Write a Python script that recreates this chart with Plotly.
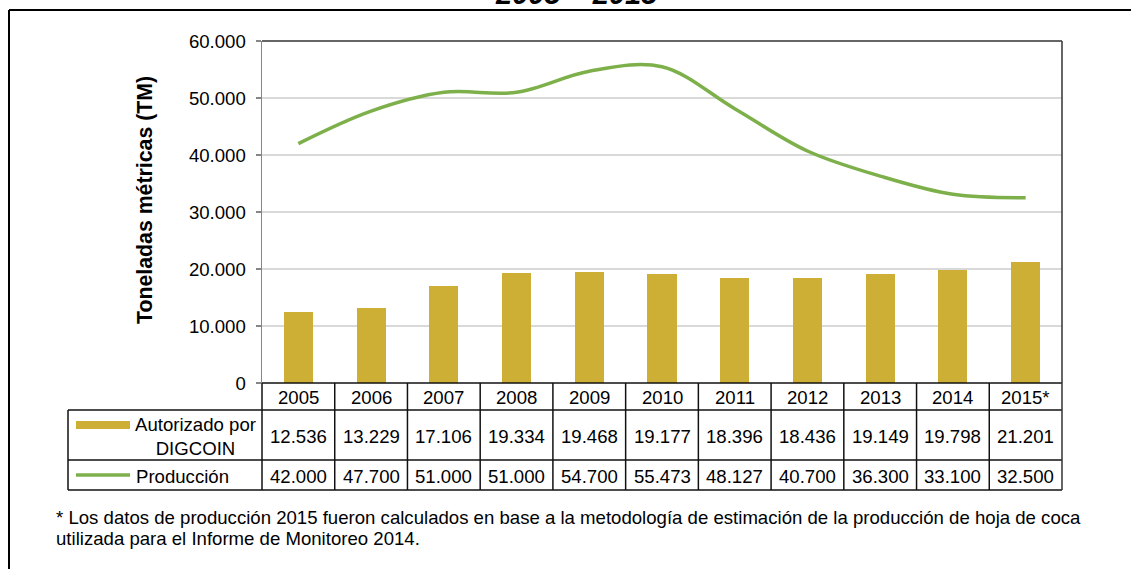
import plotly.graph_objects as go

# ---------------- data ----------------
years = ["2005", "2006", "2007", "2008", "2009", "2010", "2011", "2012", "2013", "2014", "2015*"]
autorizado = [12536, 13229, 17106, 19334, 19468, 19177, 18396, 18436, 19149, 19798, 21201]
produccion = [42000, 47700, 51000, 51000, 54700, 55473, 48127, 40700, 36300, 33100, 32500]
y_ticks = [0, 10000, 20000, 30000, 40000, 50000, 60000]
series_names = ["Autorizado por<br>DIGCOIN", "Producción"]
title_text = "2005 – 2015"
y_title = "Toneladas métricas (TM)"
footnote_1 = "* Los datos de producción 2015 fueron calculados en base a la metodología de estimación de la producción de hoja de coca"
footnote_2 = "utilizada para el Informe de Monitoreo 2014."

# ---------------- geometry (pixels) ----------------
W, H = 1131, 569
L, R, T, B = 262, 1062, 41, 383
PW, PH = R - L, B - T

def px(xp):
    return (xp - L) / PW

def py(yp):
    return (B - yp) / PH

FONT = "Liberation Sans, Arial, sans-serif"
GOLD = "#CDAF36"
GREEN = "#7DB04B"
LINE = "#111111"

def fmt(v):
    return f"{v:,}".replace(",", ".")

idx = list(range(len(years)))

fig = go.Figure()
fig.add_trace(go.Bar(x=idx, y=autorizado, width=0.4, marker=dict(color=GOLD, line=dict(width=0)),
                     name="Autorizado por DIGCOIN"))
fig.add_trace(go.Scatter(x=idx, y=produccion, mode="lines",
                         line=dict(color=GREEN, width=3.5, shape="spline", smoothing=1.0),
                         name="Producción"))

shapes = []
annotations = []

# row pixel boundaries of data table
r_head_top, r_head_bot = 383, 410
r1_bot, r2_bot = 460, 490
tbl_left = 68

# horizontal lines
for yy, x0 in [(r_head_bot, tbl_left), (r1_bot, tbl_left), (r2_bot, tbl_left)]:
    shapes.append(dict(type="line", xref="paper", yref="paper", x0=px(x0), x1=px(R),
                       y0=py(yy), y1=py(yy), line=dict(color=LINE, width=1.5)))
# x axis line (top of header)
shapes.append(dict(type="line", xref="paper", yref="paper", x0=0, x1=1, y0=0, y1=0,
                   line=dict(color=LINE, width=1.5)))
# vertical lines: column separators
for i in range(len(years) - 1):
    shapes.append(dict(type="line", xref="x", yref="paper", x0=i + 0.5, x1=i + 0.5,
                       y0=py(r_head_top), y1=py(r2_bot), line=dict(color=LINE, width=1.5)))
# left of table grid, right edge, legend box left
shapes.append(dict(type="line", xref="paper", yref="paper", x0=0, x1=0,
                   y0=0, y1=py(r2_bot), line=dict(color=LINE, width=1.5)))
shapes.append(dict(type="line", xref="paper", yref="paper", x0=1, x1=1,
                   y0=1, y1=py(r2_bot), line=dict(color="#333333", width=1.5)))
shapes.append(dict(type="line", xref="paper", yref="paper", x0=px(tbl_left), x1=px(tbl_left),
                   y0=py(r_head_bot), y1=py(r2_bot), line=dict(color=LINE, width=1.5)))
# plot area top border
shapes.append(dict(type="line", xref="paper", yref="paper", x0=0, x1=1, y0=1, y1=1,
                   line=dict(color="#333333", width=1.5)))
# legend keys
shapes.append(dict(type="rect", xref="paper", yref="paper", x0=px(76), x1=px(130),
                   y0=py(429), y1=py(421), fillcolor=GOLD, line=dict(width=0)))
shapes.append(dict(type="line", xref="paper", yref="paper", x0=px(76), x1=px(130),
                   y0=py(475), y1=py(475), line=dict(color=GREEN, width=3.5)))
# outer frame (left and top)
shapes.append(dict(type="line", xref="paper", yref="paper", x0=px(9), x1=px(9),
                   y0=py(10), y1=py(H + 5), line=dict(color="#000000", width=2)))
shapes.append(dict(type="line", xref="paper", yref="paper", x0=px(9), x1=px(W + 5),
                   y0=py(10), y1=py(10), line=dict(color="#000000", width=2)))

cell_font = dict(family=FONT, size=18.6, color="#000000")
for i in idx:
    annotations.append(dict(xref="x", yref="paper", x=i, y=py(397), text=years[i],
                            showarrow=False, font=cell_font, xanchor="center", yanchor="middle"))
    annotations.append(dict(xref="x", yref="paper", x=i, y=py(436), text=fmt(autorizado[i]),
                            showarrow=False, font=cell_font, xanchor="center", yanchor="middle"))
    annotations.append(dict(xref="x", yref="paper", x=i, y=py(476), text=fmt(produccion[i]),
                            showarrow=False, font=cell_font, xanchor="center", yanchor="middle"))

annotations.append(dict(xref="paper", yref="paper", x=px(195), y=py(436), text=series_names[0],
                        showarrow=False, font=cell_font, xanchor="center", yanchor="middle",
                        align="center"))
annotations.append(dict(xref="paper", yref="paper", x=px(134), y=py(476), text=series_names[1],
                        showarrow=False, font=cell_font, xanchor="left", yanchor="middle"))

# y axis title
annotations.append(dict(xref="paper", yref="paper", x=px(145), y=py(200), text="<b>" + y_title + "</b>",
                        textangle=-90, showarrow=False, xanchor="center", yanchor="middle",
                        font=dict(family=FONT, size=21.3, color="#000000")))
# cut-off title
annotations.append(dict(xref="paper", yref="paper", x=px(576), y=py(-6), text="<b><i>" + title_text + "</i></b>",
                        showarrow=False, xanchor="center", yanchor="middle",
                        font=dict(family=FONT, size=29, color="#000000")))
# footnotes
foot_font = dict(family=FONT, size=18.6, color="#000000")
annotations.append(dict(xref="paper", yref="paper", x=px(54), y=py(517), text=footnote_1,
                        showarrow=False, xanchor="left", yanchor="middle", font=foot_font))
annotations.append(dict(xref="paper", yref="paper", x=px(54), y=py(538), text=footnote_2,
                        showarrow=False, xanchor="left", yanchor="middle", font=foot_font))

fig.update_layout(
    width=W, height=H,
    margin=dict(l=L, r=W - R, t=T, b=H - B, pad=0),
    paper_bgcolor="white", plot_bgcolor="white",
    separators=",.",
    showlegend=False,
    bargap=0,
    shapes=shapes,
    annotations=annotations,
    xaxis=dict(range=[-0.5, len(years) - 0.5], showticklabels=False, showgrid=False,
               zeroline=False, showline=False, ticks="", fixedrange=True),
    yaxis=dict(range=[0, 60000], tickvals=y_ticks, tickformat=",d",
               showgrid=True, gridcolor="#D9D9D9", gridwidth=1.5,
               zeroline=False, showline=True, linecolor="#868686", linewidth=1.5,
               ticks="outside", ticklen=5, tickcolor="#868686", tickwidth=1.5,
               ticklabelstandoff=6,
               tickfont=dict(family=FONT, size=18.6, color="#000000"), fixedrange=True),
)

fig.write_html("out.html", include_plotlyjs=True, config={"displayModeBar": False, "staticPlot": True},
               post_script="document.body.style.margin='0';document.body.style.overflow='hidden';")
